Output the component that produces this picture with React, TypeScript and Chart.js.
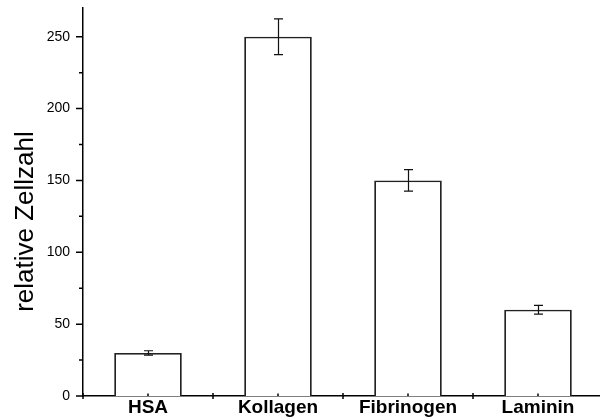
import React, { useEffect, useRef } from 'react';
import { Chart, registerables } from 'chart.js';
Chart.register(...registerables);

const categories = ['HSA', 'Kollagen', 'Fibrinogen', 'Laminin'];
const values = [30, 250, 150, 60];
const errors = [1.5, 12.5, 7.5, 3];
const yMin = 0;
const yMax = 270;
const yStep = 50;
const yMinorStep = 25;
const yTitle = 'relative Zellzahl';

const FONT = '"Liberation Sans", Arial, Helvetica, sans-serif';

export default function App() {
  const ref = useRef<HTMLCanvasElement>(null);

  useEffect(() => {
    if (!ref.current) return;
    const deco = {
      id: 'deco',
      afterDatasetsDraw(chart: any) {
        const ctx = chart.ctx;
        const x = chart.scales.x;
        const y = chart.scales.y;
        ctx.save();
        ctx.strokeStyle = '#111';
        ctx.lineWidth = 1.2;
        values.forEach((v, i) => {
          const px = Math.round(x.getPixelForValue(i)) + 0.5;
          const top = y.getPixelForValue(v + errors[i]);
          const bot = y.getPixelForValue(v - errors[i]);
          const cap = 4.5;
          ctx.beginPath();
          ctx.moveTo(px, top);
          ctx.lineTo(px, bot);
          ctx.moveTo(px - cap, top);
          ctx.lineTo(px + cap, top);
          ctx.moveTo(px - cap, bot);
          ctx.lineTo(px + cap, bot);
          ctx.stroke();
        });
        ctx.restore();
      },
      afterDraw(chart: any) {
        const ctx = chart.ctx;
        const x = chart.scales.x;
        const y = chart.scales.y;
        const area = chart.chartArea;
        ctx.save();
        ctx.strokeStyle = '#000';
        ctx.lineWidth = 1.5;
        // y ticks
        ctx.beginPath();
        for (let v = yMin; v <= yMax; v += yMinorStep) {
          const py = y.getPixelForValue(v);
          const major = v % yStep === 0;
          ctx.moveTo(area.left, py);
          ctx.lineTo(area.left - (major ? 7 : 4), py);
        }
        // x ticks
        const step = x.getPixelForValue(1) - x.getPixelForValue(0);
        for (let i = 0; i <= categories.length; i++) {
          const px = x.getPixelForValue(i) - step / 2;
          ctx.moveTo(px, area.bottom - 3);
          ctx.lineTo(px, area.bottom + 3);
        }
        for (let i = 0; i < categories.length; i++) {
          const px = x.getPixelForValue(i);
          ctx.moveTo(px, area.bottom - 2.5);
          ctx.lineTo(px, area.bottom);
        }
        ctx.stroke();
        // y title
        ctx.fillStyle = '#000';
        ctx.font = '26px ' + FONT;
        ctx.textAlign = 'center';
        ctx.textBaseline = 'alphabetic';
        ctx.translate(33, (area.top + area.bottom) / 2 + 19.5);
        ctx.rotate(-Math.PI / 2);
        ctx.fillText(yTitle, 0, 0);
        ctx.restore();
      },
    };

    const chart = new Chart(ref.current, {
      type: 'bar',
      data: {
        labels: categories,
        datasets: [
          {
            data: values,
            backgroundColor: '#ffffff',
            borderColor: '#222',
            borderWidth: 1.8,
            barPercentage: 0.52,
            categoryPercentage: 1,
          },
        ],
      },
      options: {
        animation: false,
        responsive: false,
        devicePixelRatio: 1,
        layout: { padding: { top: 8, left: 0, right: 0, bottom: 0 } },
        plugins: { legend: { display: false }, tooltip: { enabled: false } },
        scales: {
          x: {
            type: 'category',
            offset: true,
            grid: { display: false, drawTicks: false, offset: true },
            border: { display: true, color: '#000', width: 1.5 },
            ticks: {
              padding: 0,
              color: '#000',
              font: { family: FONT, size: 19, weight: 'bold' },
              maxRotation: 0,
              autoSkip: false,
            },
            afterFit(scale: any) {
              scale.height = 23;
              scale.paddingLeft = 0;
              scale.paddingRight = 0;
              scale.paddingTop = 0;
              scale.paddingBottom = 0;
            },
          },
          y: {
            type: 'linear',
            min: yMin,
            max: yMax,
            grid: { display: false, drawTicks: false },
            border: { display: true, color: '#000', width: 1.5 },
            ticks: {
              stepSize: yStep,
              includeBounds: false,
              padding: 13,
              color: '#000',
              font: { family: FONT, size: 14 },
            },
            afterFit(scale: any) {
              scale.width = 83;
              scale.paddingLeft = 0;
              scale.paddingRight = 0;
              scale.paddingTop = 0;
              scale.paddingBottom = 0;
            },
          },
        },
      },
      plugins: [deco],
    } as any);
    return () => chart.destroy();
  }, []);

  return (
    <div
      style={{
        position: 'fixed',
        left: 0,
        top: 0,
        width: 600,
        height: 419,
        overflow: 'hidden',
        background: '#fff',
      }}
    >
      <canvas ref={ref} width={603} height={419} style={{ display: 'block', width: 603, height: 419 }} />
    </div>
  );
}
